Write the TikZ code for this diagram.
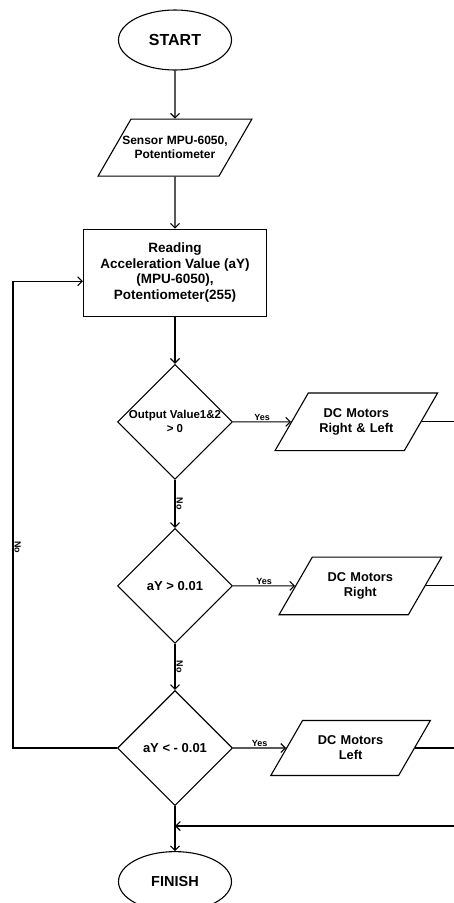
\documentclass[tikz,border=0pt]{standalone}
\usepackage{fontspec}
\setmainfont{Liberation Sans}
\usetikzlibrary{arrows.meta,positioning,shapes.geometric}

\begin{document}
\begin{tikzpicture}[x=1pt,y=-1pt,
  term/.style={draw,ellipse,minimum width=113pt,minimum height=60pt,inner sep=0pt},
  io/.style={draw,trapezium,trapezium left angle=60,trapezium right angle=120,
             text width=78pt,inner xsep=9pt,inner ysep=15.5pt,
             align=center,font=\fontsize{12.8}{15}\selectfont\bfseries},
  proc/.style={draw,rectangle,minimum width=183pt,minimum height=87pt,align=center,
               font=\fontsize{13.5}{15.5}\selectfont\bfseries},
  decision/.style={draw,diamond,aspect=1,minimum width=115pt,minimum height=115pt,
                   inner sep=-5pt,align=center,font=\fontsize{13}{14}\selectfont\bfseries},
  lbl/.style={font=\fontsize{9}{10}\selectfont\bfseries,inner sep=1pt},
  >={Straight Barb[length=4.5pt,width=9pt]},line width=1.1pt,node distance=48pt]
\useasboundingbox (0,0) rectangle (454,903);
\node[term,font=\fontsize{16}{18}\selectfont\bfseries] (start) at (175,40) {START};
\node[io,below=48pt of start,text width=88pt,inner xsep=0pt,inner ysep=17pt,
      font=\fontsize{12}{14.5}\selectfont\bfseries] (sensor) {\makebox[88pt]{Sensor MPU-6050,}\\Potentiometer};
\node[proc,below=52pt of sensor] (read) {Reading\\Acceleration Value (aY)\\(MPU-6050),\\Potentiometer(255)};
\node[decision,below=47pt of read,font=\fontsize{11.5}{14}\selectfont\bfseries] (dec1) {Output Value1\&2\\> 0};
\node[decision,below=48pt of dec1] (dec2) {aY > 0.01};
\node[decision,below=46pt of dec2] (dec3) {aY < - 0.01};
\node[term,below=45pt of dec3,font=\fontsize{14.5}{16}\selectfont\bfseries] (finish) {FINISH};
\node[io,right=58pt of dec1] (mot1) {DC Motors\\Right \& Left};
\node[io,right=62pt of dec2] (mot2) {DC Motors\\Right};
\node[io,right=53pt of dec3] (mot3) {DC Motors\\Left};
\coordinate (rgt) at (454,0);
\coordinate (lft) at (13,0);
\coordinate (back) at (454,826);
\coordinate (join) at (dec3.south |- back);
\coordinate (loopin) at ([yshift=-8.5pt]read.west);
\draw[->] (start) -- (sensor);
\draw[->] (sensor) -- (read);
\draw[->] (read) -- (dec1);
\draw[->] (dec1) -- node[lbl,rotate=-90,anchor=south] {No} (dec2);
\draw[->] (dec2) -- node[lbl,rotate=-90,anchor=south] {No} (dec3);
\draw[->] (dec1) -- node[lbl,above] {Yes} (mot1);
\draw[->] (dec2) -- node[lbl,above] {Yes} (mot2);
\draw[->] (dec3) -- node[lbl,above] {Yes} (mot3);
\draw (mot1.east) -- (mot1.east -| rgt);
\draw (mot2.east) -- (mot2.east -| rgt);
\draw (mot3.east) -- (mot3.east -| rgt);
\draw[->] (dec3.west) -- (dec3.west -| lft) -- node[lbl,rotate=-90,anchor=south,pos=0.43] {No} (loopin -| lft) -- (loopin);
\draw[->] (back) -- (join);
\draw[->] (dec3) -- (finish);
\end{tikzpicture}
\end{document}
